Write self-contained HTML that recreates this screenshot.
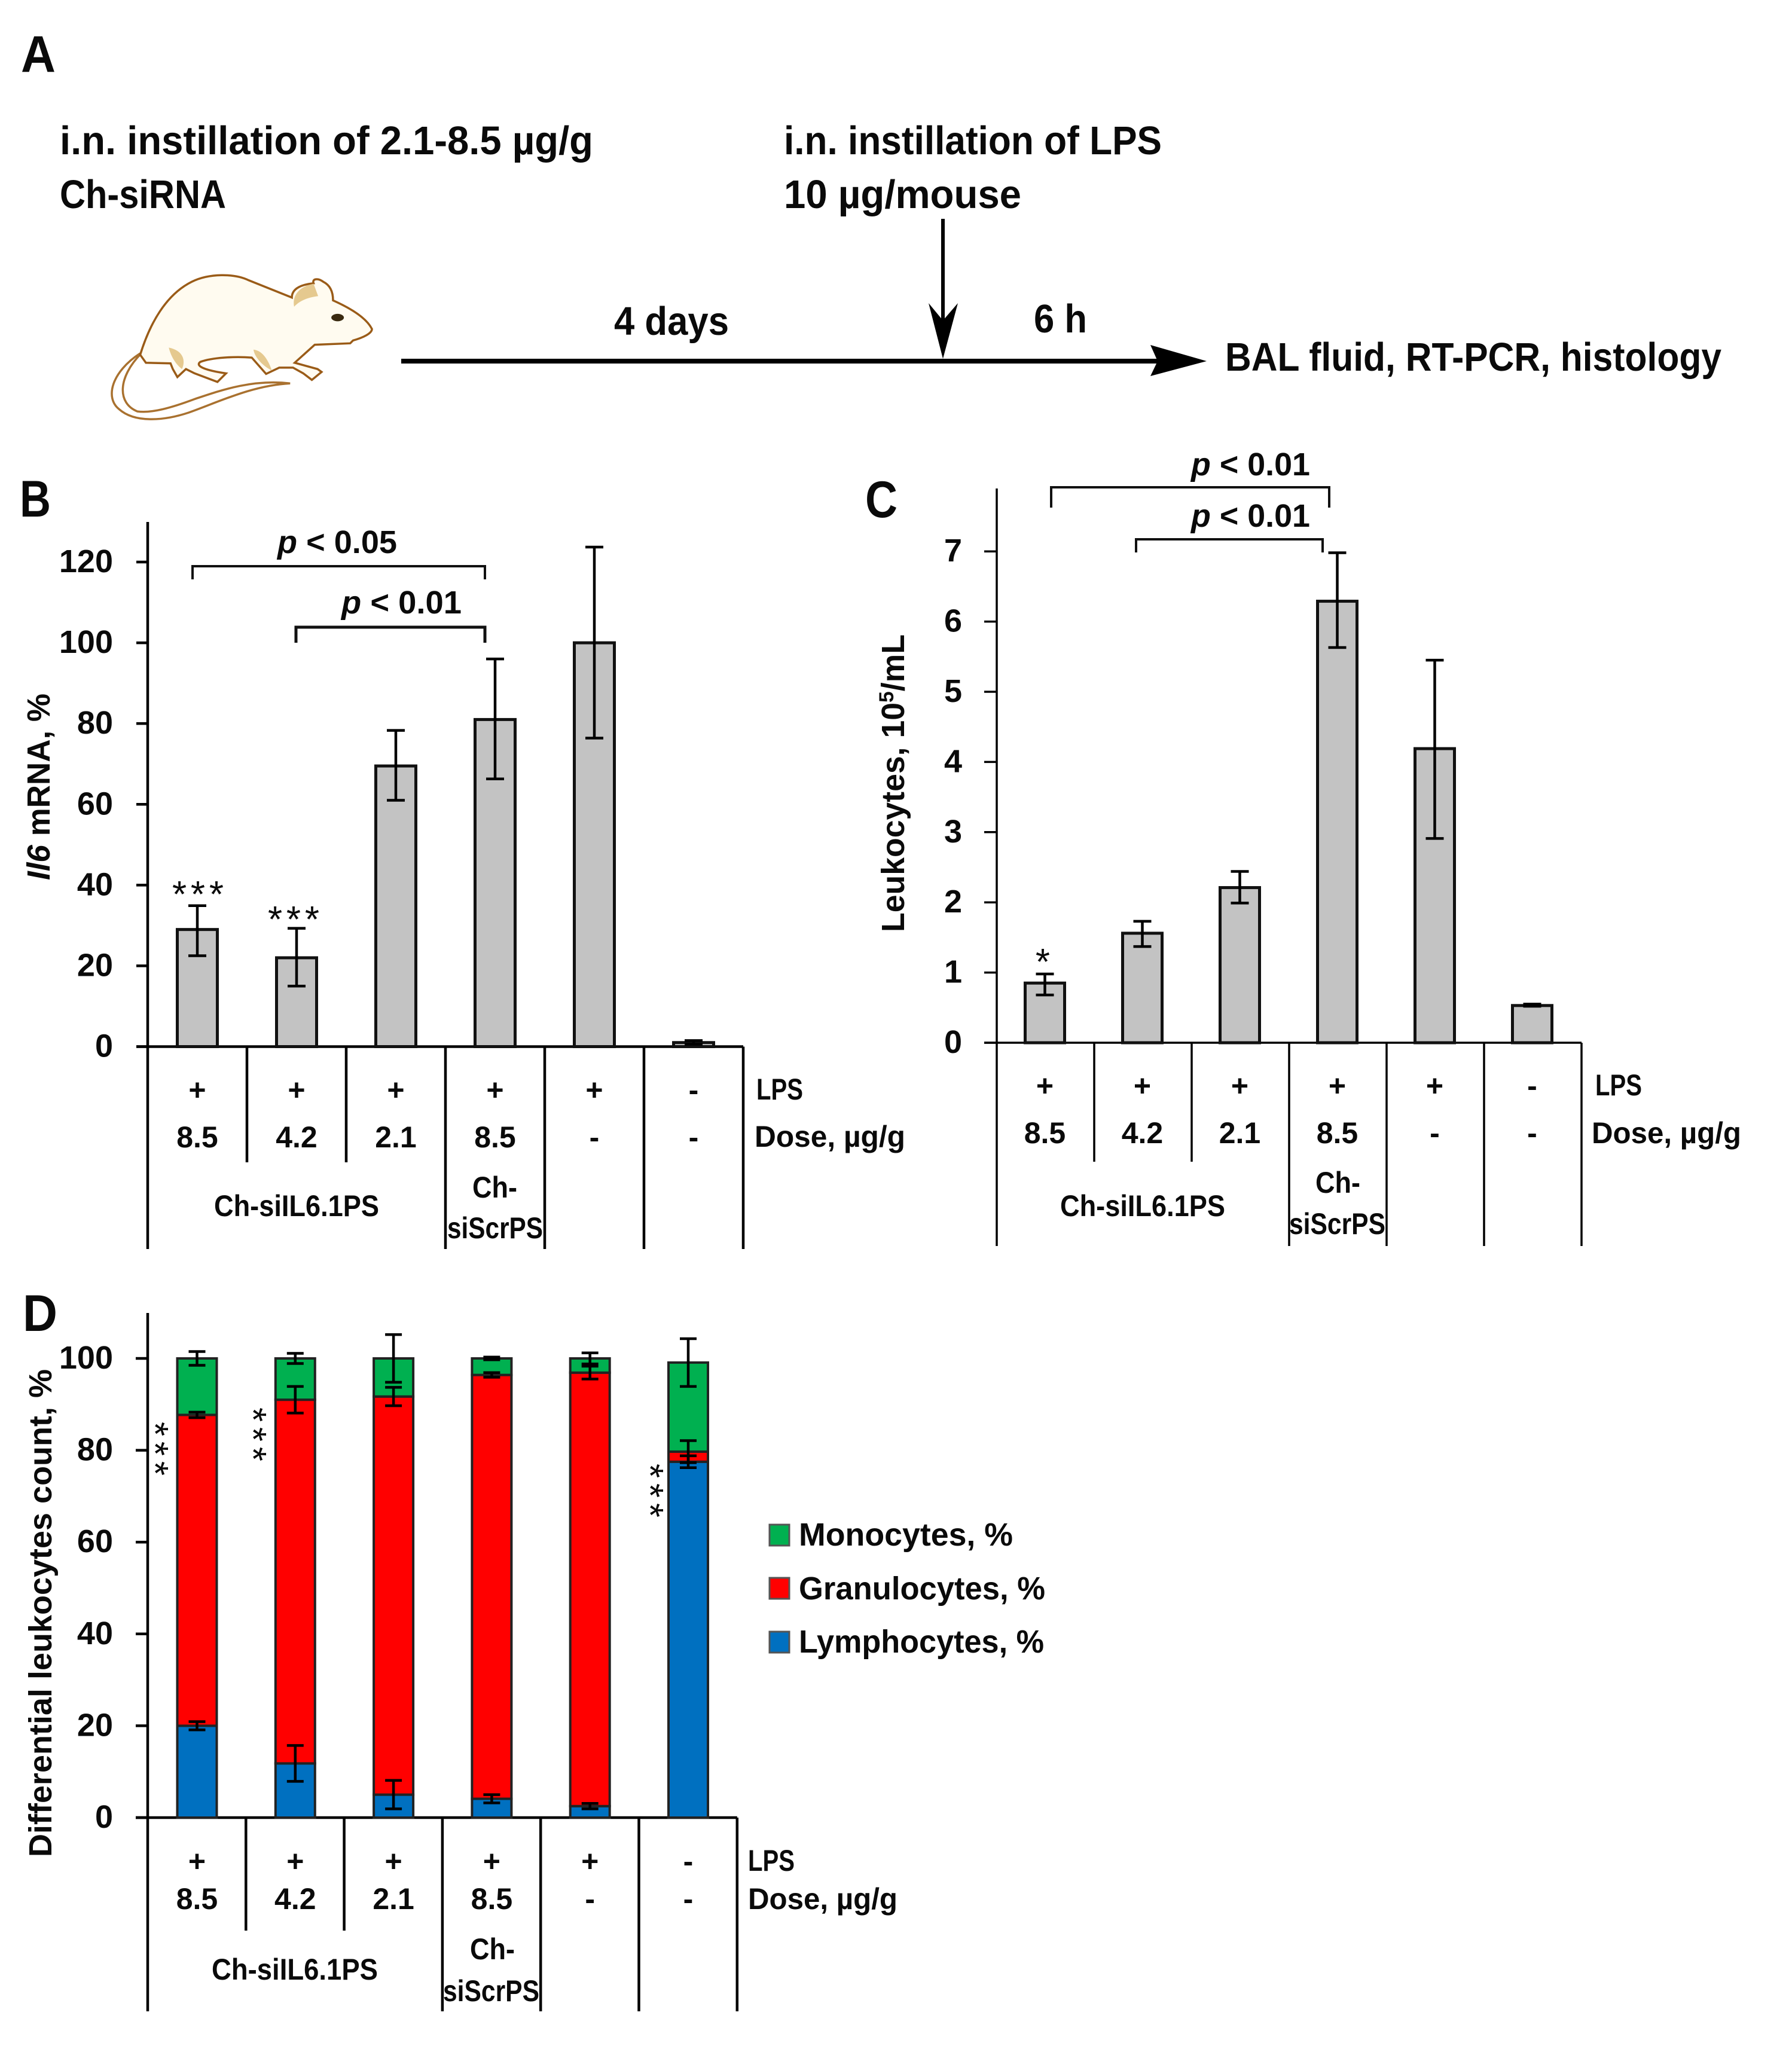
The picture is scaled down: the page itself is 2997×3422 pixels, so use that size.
<!DOCTYPE html>
<html lang="en">
<head>
<meta charset="utf-8">
<title>Ch-siRNA figure</title>
<style>
html,body{margin:0;padding:0;background:#fff;}
svg{display:block;}
text{font-family:"Liberation Sans",sans-serif;font-weight:700;fill:#0a0a0a;}
.t{font-size:67px;}
.r{font-size:50px;}
.y{font-size:54px;}
.p{font-size:54px;}
.l{font-size:86px;}
.s{font-size:62px;font-weight:400;}
.br{fill:none;stroke:#111;stroke-width:4;}
</style>
</head>
<body>
<svg id="fig" xmlns="http://www.w3.org/2000/svg" width="2997" height="3422" viewBox="0 0 2997 3422">
<rect x="0" y="0" width="2997" height="3422" fill="#fff"/>

<!-- Panel A -->
<g>
<text class="l" x="35" y="120" textLength="58" lengthAdjust="spacingAndGlyphs">A</text>
<text class="t" x="100" y="258" textLength="892" lengthAdjust="spacingAndGlyphs">i.n. instillation of 2.1-8.5 µg/g</text>
<text class="t" x="100" y="348" textLength="278" lengthAdjust="spacingAndGlyphs">Ch-siRNA</text>
<text class="t" x="1311" y="258" textLength="632" lengthAdjust="spacingAndGlyphs">i.n. instillation of LPS</text>
<text class="t" x="1311" y="348" textLength="397" lengthAdjust="spacingAndGlyphs">10 µg/mouse</text>
<text class="t" x="1027" y="560" textLength="192" lengthAdjust="spacingAndGlyphs">4 days</text>
<text class="t" x="1729" y="556" textLength="89" lengthAdjust="spacingAndGlyphs">6 h</text>
<text class="t" x="2049" y="620" textLength="830" lengthAdjust="spacingAndGlyphs">BAL fluid, RT-PCR, histology</text>

<g>
<rect x="671" y="600" width="1265" height="8" fill="#000"/>
<path d="M1924 577 L2018 604 L1924 629 L1936 604 Z" fill="#000"/>
</g>
<g>
<rect x="1574" y="366" width="6" height="170" fill="#000"/>
<path d="M1553 507 L1577 600 L1602 507 L1577 536 Z" fill="#000"/>
</g>

<g transform="scale(0.957,0.4785)">
<path vector-effect="non-scaling-stroke" d="M245 1235 C195 1300 183 1390 208 1430 C235 1478 285 1472 330 1442 C380 1407 440 1347 507 1340 C440 1325 385 1365 340 1395 C300 1425 265 1445 240 1438 C205 1410 205 1320 247 1235" fill="#fff" stroke="#a9712f" stroke-width="3.5"/>
<path vector-effect="non-scaling-stroke" d="M245 1240 C262 1130 290 1030 335 985 C365 955 410 955 435 980 L510 1040 C510 1010 525 995 548 990 C545 975 555 970 565 985 C580 1000 582 1030 582 1050 C610 1075 640 1110 650 1150 C650 1165 635 1180 617 1190 L612 1200 L550 1205 L515 1268 L555 1290 L562 1300 L545 1328 L530 1305 L512 1285 L488 1285 L465 1307 L440 1250 C410 1245 370 1250 350 1265 C340 1280 360 1295 395 1305 L380 1335 L340 1305 L325 1290 L310 1318 L302 1290 L298 1270 L255 1268 Z" fill="#fffbf0" stroke="#9a5b17" stroke-width="3.5"/>
<path vector-effect="non-scaling-stroke" d="M514 1072 C510 1030 525 1000 548 992 L556 1035 C535 1040 522 1055 514 1072 Z" fill="#e5c98f"/>
<path vector-effect="non-scaling-stroke" d="M295 1215 C320 1225 325 1260 318 1290 C305 1270 298 1240 295 1215 Z" fill="#e5c98f"/>
<path vector-effect="non-scaling-stroke" d="M443 1222 C460 1225 470 1265 475 1295 C460 1280 445 1250 443 1222 Z" fill="#e5c98f"/>
<ellipse cx="590" cy="1110" rx="11" ry="13" fill="#3a2a10"/>
</g>
</g>

<!-- Panel labels -->
<text class="l" x="33" y="864" textLength="52" lengthAdjust="spacingAndGlyphs">B</text>
<text class="l" x="1447" y="865" textLength="54" lengthAdjust="spacingAndGlyphs">C</text>
<text class="l" x="38" y="2226" textLength="58" lengthAdjust="spacingAndGlyphs">D</text>

<!-- Panel B annotations -->
<g>
<text class="y" transform="translate(83 1472) rotate(-90)" textLength="312" lengthAdjust="spacingAndGlyphs"><tspan font-style="italic">Il6</tspan> mRNA, %</text>
<path class="br" d="M322 969 V947 H811 V969"/>
<text class="p" x="464" y="925" textLength="200" lengthAdjust="spacingAndGlyphs"><tspan font-style="italic">p</tspan> &lt; 0.05</text>
<path class="br" d="M495 1075 V1049 H811 V1075" style="stroke-width:5"/>
<text class="p" x="571" y="1026" textLength="201" lengthAdjust="spacingAndGlyphs"><tspan font-style="italic">p</tspan> &lt; 0.01</text>
<text class="s" x="331" y="1517" text-anchor="middle" textLength="86">***</text>
<text class="s" x="491" y="1559" text-anchor="middle" textLength="86">***</text>
<text class="r" x="1265" y="1839" textLength="78" lengthAdjust="spacingAndGlyphs">LPS</text>
<text class="r" x="1262" y="1918" textLength="252" lengthAdjust="spacingAndGlyphs">Dose, µg/g</text>
<text class="r" x="358" y="2034" textLength="276" lengthAdjust="spacingAndGlyphs">Ch-siIL6.1PS</text>
<text class="r" x="790" y="2003" textLength="75" lengthAdjust="spacingAndGlyphs">Ch-</text>
<text class="r" x="748" y="2071" textLength="160" lengthAdjust="spacingAndGlyphs">siScrPS</text>
</g>

<!-- Panel C annotations -->
<g>
<text class="y" transform="translate(1512 1559) rotate(-90)" textLength="498" lengthAdjust="spacingAndGlyphs">Leukocytes, 10<tspan dy="-18" font-size="34">5</tspan><tspan dy="18">/mL</tspan></text>
<path class="br" d="M1758 849 V815 H2223 V849"/>
<text class="p" x="1992" y="795" textLength="199" lengthAdjust="spacingAndGlyphs"><tspan font-style="italic">p</tspan> &lt; 0.01</text>
<path class="br" d="M1900 924 V902 H2212 V924"/>
<text class="p" x="1992" y="881" textLength="199" lengthAdjust="spacingAndGlyphs"><tspan font-style="italic">p</tspan> &lt; 0.01</text>
<text class="s" x="1744" y="1630" text-anchor="middle">*</text>
<text class="r" x="2668" y="1832" textLength="78" lengthAdjust="spacingAndGlyphs">LPS</text>
<text class="r" x="2662" y="1912" textLength="250" lengthAdjust="spacingAndGlyphs">Dose, µg/g</text>
<text class="r" x="1773" y="2034" textLength="276" lengthAdjust="spacingAndGlyphs">Ch-siIL6.1PS</text>
<text class="r" x="2200" y="1995" textLength="75" lengthAdjust="spacingAndGlyphs">Ch-</text>
<text class="r" x="2156" y="2064" textLength="161" lengthAdjust="spacingAndGlyphs">siScrPS</text>
</g>

<!-- Panel D annotations -->
<g>
<text class="y" transform="translate(86 3106) rotate(-90)" textLength="816" lengthAdjust="spacingAndGlyphs">Differential leukocytes count, %</text>
<text class="s" transform="rotate(90 274 2423)" x="274" y="2459" text-anchor="middle" textLength="90">***</text>
<text class="s" transform="rotate(90 438 2399)" x="438" y="2435" text-anchor="middle" textLength="90">***</text>
<text class="s" transform="rotate(90 1102 2493)" x="1102" y="2529" text-anchor="middle" textLength="90">***</text>
<text class="r" x="1251" y="3129" textLength="78" lengthAdjust="spacingAndGlyphs">LPS</text>
<text class="r" x="1251" y="3193" textLength="250" lengthAdjust="spacingAndGlyphs">Dose, µg/g</text>
<text class="r" x="354" y="3311" textLength="278" lengthAdjust="spacingAndGlyphs">Ch-siIL6.1PS</text>
<text class="r" x="786" y="3277" textLength="75" lengthAdjust="spacingAndGlyphs">Ch-</text>
<text class="r" x="741" y="3347" textLength="161" lengthAdjust="spacingAndGlyphs">siScrPS</text>
<g>
<g>
<rect x="1287" y="2550" width="33" height="35" fill="#00b050" stroke="#555" stroke-width="3"/>
<text class="r" x="1336" y="2585" textLength="358" lengthAdjust="spacingAndGlyphs" style="font-size:54px">Monocytes, %</text>
</g>
<g>
<rect x="1287" y="2639" width="33" height="35" fill="#ff0000" stroke="#555" stroke-width="3"/>
<text class="r" x="1336" y="2675" textLength="412" lengthAdjust="spacingAndGlyphs" style="font-size:54px">Granulocytes, %</text>
</g>
<g>
<rect x="1287" y="2729" width="33" height="35" fill="#0070c0" stroke="#555" stroke-width="3"/>
<text class="r" x="1336" y="2764" textLength="410" lengthAdjust="spacingAndGlyphs" style="font-size:54px">Lymphocytes, %</text>
</g>
</g>
</g>
</svg>

<script>
// Shared category rows
const lpsRow = ['+', '+', '+', '+', '+', '-'];
const doseRow = ['8.5', '4.2', '2.1', '8.5', '-', '-'];

// Panel B: Il6 mRNA, %
const bTicks = [0, 20, 40, 60, 80, 100, 120];
const bValues = [29, 22, 69.5, 81, 100, 1];
const bErrHigh = [34.9, 29.3, 78.3, 96, 123.7, 1.5];
const bErrLow = [22.5, 15, 61, 66.3, 76.4, 0.6];

// Panel C: Leukocytes, 10^5/mL
const cTicks = [0, 1, 2, 3, 4, 5, 6, 7];
const cValues = [0.85, 1.56, 2.21, 6.29, 4.19, 0.53];
const cErrHigh = [0.98, 1.73, 2.44, 6.98, 5.45, 0.55];
const cErrLow = [0.68, 1.37, 1.99, 5.63, 2.91, 0.52];

// Panel D: Differential leukocytes count, %
const dTicks = [0, 20, 40, 60, 80, 100];
const dLymphocytes = [20, 11.8, 5, 4.1, 2.5, 77.5];
const dGranulocytes = [67.7, 79.2, 86.7, 92.3, 94.4, 2.2];
const dMonocytes = [12.3, 9, 8.3, 3.6, 3.1, 19.4];
const dLymphErr = [0.9, 3.9, 3.1, 0.9, 0.6, 1.3];
const dGranErr = [0.6, 2.9, 2, 0.5, 1.4, 2.4];
const dMonoErr = [1.5, 1.1, 5.2, 0.3, 1.2, 5.2];

const NS = 'http://www.w3.org/2000/svg';
const fig = document.getElementById('fig');

function add(parent, tag) {
  const node = document.createElementNS(NS, tag);
  parent.appendChild(node);
  return node;
}
function setAll(node, props) {
  for (const k in props) node.setAttribute(k, props[k]);
}

function drawFrame(panel, ticks, lay, yOf, xOf) {
  const g = add(fig, 'g');
  
  

  const axis = add(g, 'line');
  setAll(axis, {x1: lay.left, x2: lay.left, y1: lay.top, y2: lay.bottom, stroke: '#000', 'stroke-width': lay.sw});
  
  

  const base = add(g, 'line');
  setAll(base, {x1: lay.tickLeft, x2: lay.left + lay.step * 6, y1: yOf(0), y2: yOf(0), stroke: '#000', 'stroke-width': lay.sw});
  
  

  ticks.forEach(function (t) {
    const mark = add(g, 'line');
    setAll(mark, {x1: lay.tickLeft, x2: lay.left, y1: yOf(t), y2: yOf(t), stroke: '#000', 'stroke-width': lay.sw});
    
    

    const label = add(g, 'text');
    setAll(label, {x: lay.labelRight, y: yOf(t) + 17, 'text-anchor': 'end', 'class': 'y'});
    label.textContent = String(t);
    
    
  });

  for (let i = 1; i <= 6; i++) {
    const x = lay.left + lay.step * i;
    const div = add(g, 'line');
    setAll(div, {x1: x, x2: x, y1: yOf(0), y2: i <= 2 ? lay.shortBottom : lay.bottom, stroke: '#000', 'stroke-width': lay.sw});
    
    
  }

  lpsRow.forEach(function (s, i) {
    const label = add(g, 'text');
    setAll(label, {x: xOf(i), y: lay.lpsY, 'text-anchor': 'middle', 'class': 'r'});
    label.textContent = s;
    
    
  });
  doseRow.forEach(function (s, i) {
    const label = add(g, 'text');
    setAll(label, {x: xOf(i), y: lay.doseY, 'text-anchor': 'middle', 'class': 'r'});
    label.textContent = s;
    
    
  });
}

function drawError(parent, x, hiY, loY, cap, name) {
  const g = add(parent, 'g');
  
  
  const parts = [
    [x, hiY, x, loY],
    [x - cap, hiY, x + cap, hiY],
    [x - cap, loY, x + cap, loY]
  ];
  parts.forEach(function (p) {
    const l = add(g, 'line');
    setAll(l, {x1: p[0], y1: p[1], x2: p[2], y2: p[3], stroke: '#000', 'stroke-width': 4.5});
  });
}

function drawBars(panel, values, hi, lo, yOf, xOf, width) {
  const g = add(fig, 'g');
  
  
  values.forEach(function (v, i) {
    const r = add(g, 'rect');
    setAll(r, {x: xOf(i) - width / 2, y: yOf(v), width: width, height: yOf(0) - yOf(v), fill: '#c3c3c3', stroke: '#111', 'stroke-width': 5});
    
    
    drawError(g, xOf(i), yOf(hi[i]), yOf(lo[i]), 15, 'error-bar');
  });
}

// Panel B
const yB = function (v) { return 1750.5 - v * 6.754; };
const xB = function (i) { return 330 + i * 166; };
drawFrame('panel-b', bTicks, {left: 247, top: 873, bottom: 2089, shortBottom: 1944, tickLeft: 228, labelRight: 189, step: 166, sw: 4.5, lpsY: 1840, doseY: 1919}, yB, xB);
drawBars('panel-b', bValues, bErrHigh, bErrLow, yB, xB, 67);

// Panel C
const yC = function (v) { return 1744 - v * 117.4; };
const xC = function (i) { return 1747.5 + i * 163; };
drawFrame('panel-c', cTicks, {left: 1667, top: 817, bottom: 2084, shortBottom: 1943, tickLeft: 1646, labelRight: 1609, step: 163, sw: 3.5, lpsY: 1833, doseY: 1912}, yC, xC);
drawBars('panel-c', cValues, cErrHigh, cErrLow, yC, xC, 66);

// Panel D
const yD = function (v) { return 3040 - v * 7.68; };
const xD = function (i) { return 329.5 + i * 164.3; };
drawFrame('panel-d', dTicks, {left: 247, top: 2196, bottom: 3364, shortBottom: 3229, tickLeft: 227, labelRight: 189, step: 164.3, sw: 4.5, lpsY: 3130, doseY: 3193}, yD, xD);

const stackG = add(fig, 'g');


const seriesList = [
  {values: dLymphocytes, errs: dLymphErr, color: '#0070c0'},
  {values: dGranulocytes, errs: dGranErr, color: '#ff0000'},
  {values: dMonocytes, errs: dMonoErr, color: '#00b050'}
];
dLymphocytes.forEach(function (_, i) {
  let cum = 0;
  const errs = [];
  seriesList.forEach(function (s) {
    const v = s.values[i];
    const seg = add(stackG, 'rect');
    setAll(seg, {x: xD(i) - 33, y: yD(cum + v), width: 66, height: yD(cum) - yD(cum + v), fill: s.color, stroke: '#222', 'stroke-width': 4});
    
    
    cum += v;
    errs.push({top: cum, e: s.errs[i]});
  });
  errs.forEach(function (e) {
    drawError(stackG, xD(i), yD(e.top + e.e), yD(e.top - e.e), 14, 'error-bar');
  });
});
</script>
</body>
</html>
